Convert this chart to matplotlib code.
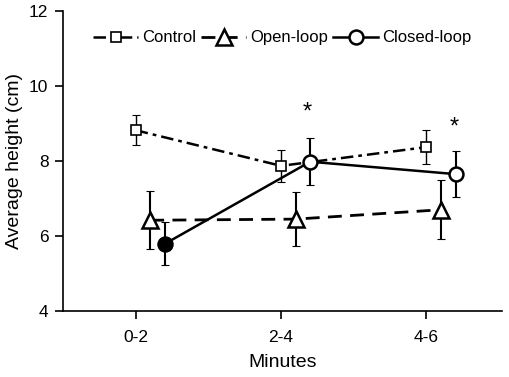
import numpy as np
import matplotlib
matplotlib.use("Agg")
import matplotlib.pyplot as plt

plt.rcParams['font.family'] = ['Liberation Sans', 'DejaVu Sans']

# data
minutes = ['0-2', '2-4', '4-6']
control = [8.82, 7.87, 8.37]
control_err = [0.40, 0.43, 0.45]
openloop = [6.42, 6.45, 6.70]
openloop_err = [0.77, 0.72, 0.78]
closedloop = [5.79, 7.98, 7.65]
closedloop_err = [0.57, 0.63, 0.62]
star_x = [1.18, 2.19]
star_y = [9.3, 8.9]

x = np.arange(len(minutes))

fig = plt.figure(figsize=(5.1, 3.77), dpi=100)
ax = fig.add_axes([0.1235, 0.175, 0.861, 0.796])

ax.errorbar(x, control, yerr=control_err, fmt='none', ecolor='black',
            elinewidth=1.0, capsize=3, capthick=0.8, zorder=2)
ax.plot(x, control, color='black', lw=1.8, dashes=(5, 2, 1.5, 2),
        marker='s', ms=6.5, mfc='white', mec='black', mew=1.2,
        label='Control', zorder=3)

ax.errorbar(x + 0.1, openloop, yerr=openloop_err, fmt='none', ecolor='black',
            elinewidth=1.5, capsize=3, capthick=0.8, zorder=2)
ax.plot(x + 0.1, openloop, color='black', lw=2.0, dashes=(5, 3),
        marker='^', ms=11, mfc='white', mec='black', mew=1.8,
        label='Open-loop', zorder=3)

ax.errorbar(x + 0.2, closedloop, yerr=closedloop_err, fmt='none', ecolor='black',
            elinewidth=1.5, capsize=3, capthick=0.8, zorder=2)
ax.plot(x + 0.2, closedloop, color='black', lw=1.8, linestyle='-',
        marker='o', ms=10, mfc='white', mec='black', mew=1.8,
        label='Closed-loop', zorder=4)
# first closed-loop point is filled
ax.plot(x[:1] + 0.2, closedloop[:1], linestyle='none', marker='o', ms=10,
        mfc='black', mec='black', zorder=5)

for sx, sy in zip(star_x, star_y):
    ax.text(sx, sy, '*', ha='center', va='center', fontsize=17)

ax.set_xlim(-0.5, 2.52)
ax.set_ylim(4, 12)
ax.set_xticks(x)
ax.set_xticklabels(minutes)
ax.set_yticks([4, 6, 8, 10, 12])
ax.tick_params(labelsize=12.5, direction='out', length=5.5, width=1.2)
ax.tick_params(axis='x', pad=8)
ax.tick_params(axis='y', pad=5)
ax.set_xlabel('Minutes', fontsize=14, labelpad=7)
ax.set_ylabel('Average height (cm)', fontsize=14, labelpad=4)
for side in ['top', 'right']:
    ax.spines[side].set_visible(False)
for side in ['left', 'bottom']:
    ax.spines[side].set_linewidth(1.2)

ax.legend(loc='center', bbox_to_anchor=(0.5, 0.91), ncol=3, frameon=False,
          fontsize=12, handlelength=2.7, columnspacing=0.3, handletextpad=0.25,
          borderpad=0)

fig.savefig('out.png', dpi=100)
